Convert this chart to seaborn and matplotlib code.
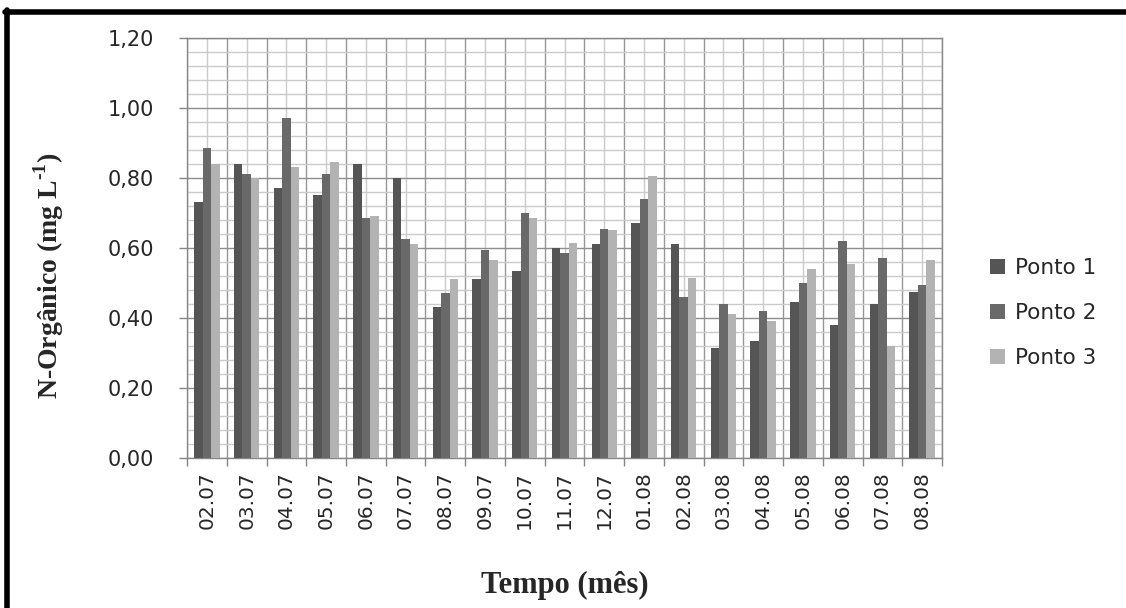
import matplotlib
matplotlib.use("Agg")
import matplotlib.pyplot as plt
from matplotlib.lines import Line2D
from matplotlib.ticker import MultipleLocator, FixedLocator, FuncFormatter
import seaborn as sns
import pandas as pd

# Sampling months and organic nitrogen (mg/L) at the three sampling points
months = ["02.07", "03.07", "04.07", "05.07", "06.07", "07.07", "08.07", "09.07",
          "10.07", "11.07", "12.07", "01.08", "02.08", "03.08", "04.08", "05.08",
          "06.08", "07.08", "08.08"]
ponto1 = [0.73, 0.84, 0.77, 0.75, 0.84, 0.80, 0.43, 0.51, 0.535, 0.60, 0.61, 0.67,
          0.61, 0.315, 0.335, 0.445, 0.38, 0.44, 0.475]
ponto2 = [0.885, 0.81, 0.97, 0.81, 0.685, 0.625, 0.47, 0.595, 0.70, 0.585, 0.655, 0.74,
          0.46, 0.44, 0.42, 0.50, 0.62, 0.57, 0.495]
ponto3 = [0.84, 0.80, 0.83, 0.845, 0.69, 0.61, 0.51, 0.565, 0.685, 0.615, 0.65, 0.805,
          0.515, 0.41, 0.39, 0.54, 0.555, 0.32, 0.565]
series_names = ["Ponto 1", "Ponto 2", "Ponto 3"]
series_colors = ["#555555", "#696969", "#b3b3b3"]

df = pd.concat([
    pd.DataFrame({"mes": months, "valor": vals, "ponto": name})
    for name, vals in zip(series_names, [ponto1, ponto2, ponto3])
], ignore_index=True)

sns.set_style("white")
plt.rcParams["font.family"] = ["DejaVu Sans"]
plt.rcParams["mathtext.fontset"] = "custom"
plt.rcParams["mathtext.rm"] = "Liberation Serif:bold"
plt.rcParams["mathtext.bf"] = "Liberation Serif:bold"

fig = plt.figure(figsize=(11.26, 6.08), dpi=100)
ax = fig.add_axes([0.1661, 0.2472, 0.6705, 0.6903])

sns.barplot(data=df, x="mes", y="valor", hue="ponto", order=months,
            hue_order=series_names, palette=series_colors, width=0.64, gap=0,
            saturation=1, errorbar=None, ax=ax, zorder=3, linewidth=0)

# Axis limits and grid
ax.set_ylim(0, 1.2)
ax.set_xlim(-0.5, len(months) - 0.5)
ax.yaxis.set_major_locator(MultipleLocator(0.2))
ax.yaxis.set_minor_locator(MultipleLocator(0.04))
ax.yaxis.set_major_formatter(FuncFormatter(lambda v, p: f"{v:.2f}".replace(".", ",")))
ax.xaxis.set_minor_locator(FixedLocator([i - 0.5 for i in range(len(months) + 1)]))

ax.grid(which="minor", axis="y", color="#cbcbcb", linewidth=1.0, zorder=0)
ax.grid(which="major", axis="y", color="#8e8e8e", linewidth=1.0, zorder=1)
ax.grid(which="major", axis="x", color="#cbcbcb", linewidth=1.0, zorder=0)
ax.grid(which="minor", axis="x", color="#979797", linewidth=1.0, zorder=1)
ax.set_axisbelow(True)

ax.tick_params(axis="y", which="major", direction="out", length=6, width=1,
               color="#868686", labelsize=15, labelcolor="#262626", pad=18, left=True)
ax.tick_params(axis="y", which="minor", length=0)
ax.tick_params(axis="x", which="major", length=0, labelsize=14.5,
               labelcolor="#262626", rotation=90, pad=10)
ax.tick_params(axis="x", which="minor", direction="out", length=6, width=1,
               color="#868686", bottom=True)

for side in ["left", "bottom", "top", "right"]:
    ax.spines[side].set_color("#888888")
    ax.spines[side].set_linewidth(1.0)

ax.set_xlabel("Tempo (mês)", fontfamily="Liberation Serif", fontweight="bold",
              fontsize=22, labelpad=30)
ax.set_ylabel(r"N-Orgânico (mg L$^{\text{-1}}$)", fontfamily="Liberation Serif",
              fontweight="bold", fontsize=20)
ax.yaxis.set_label_coords(-0.160, 0.433)

leg = ax.legend(loc="center left", bbox_to_anchor=(1.038, 0.345), frameon=False,
                fontsize=15.5, handlelength=0.7, handleheight=0.7,
                handletextpad=0.45, labelspacing=1.15)
for t in leg.get_texts():
    t.set_color("#262626")

# Black frame along the top and left edges
fig.add_artist(Line2D([5 / 1126, 1.0], [1 - 12 / 608, 1 - 12 / 608],
                      transform=fig.transFigure, color="black", linewidth=4))
fig.add_artist(Line2D([7.5 / 1126, 7.5 / 1126], [0.0, 1 - 10 / 608],
                      transform=fig.transFigure, color="black", linewidth=4))

fig.savefig("out.png", dpi=100)
